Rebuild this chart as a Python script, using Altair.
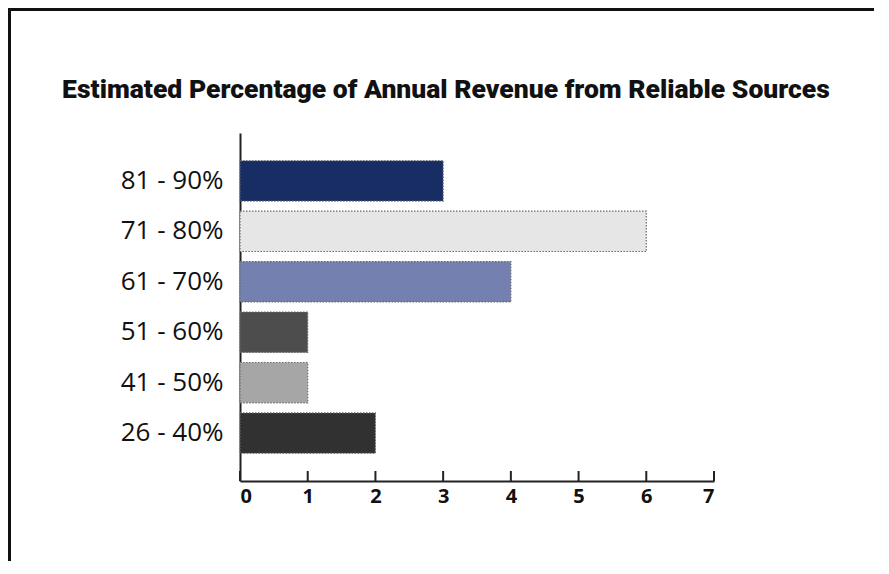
import altair as alt
import pandas as pd

categories = ["81 - 90%", "71 - 80%", "61 - 70%", "51 - 60%", "41 - 50%", "26 - 40%"]
values = [3, 6, 4, 1, 1, 2]
colors = ["#172d63", "#e6e6e6", "#7380b0", "#4d4d4d", "#a6a6a6", "#313131"]
tick_values = [0, 1, 2, 3, 4, 5, 6, 7]
title_text = ["Estimated Percentage of Annual Revenue from Reliable Sources"]

df = pd.DataFrame({"range": categories, "count": values, "color": colors})
ticks_df = pd.DataFrame({"t": tick_values})
title_df = pd.DataFrame({"title": title_text})

W, H = 474, 348

xscale = alt.Scale(domain=[0, 7], nice=False, zero=True)

bars = alt.Chart(df).mark_bar(
    stroke="#6a6a6a", strokeWidth=1.2, strokeDash=[1.5, 1.5]
).encode(
    x=alt.X("count:Q", scale=xscale,
            axis=alt.Axis(values=tick_values, ticks=False, grid=False, title=None,
                          labelFont="Open Sans", labelFontSize=20, labelFontWeight="bold",
                          labelColor="#111", labelPadding=5, domainColor="#222",
                          domainWidth=2, format="d")),
    y=alt.Y("range:N", sort=categories,
            scale=alt.Scale(paddingInner=0.2, paddingOuter=0.55),
            axis=alt.Axis(ticks=False, grid=False, title=None, labelFont="Open Sans",
                          labelFontSize=26, labelColor="#111", labelPadding=17,
                          domainColor="#222", domainWidth=2)),
    color=alt.Color("color:N", scale=None, legend=None),
)

tick_marks = alt.Chart(ticks_df).mark_rule(color="#222", strokeWidth=2).encode(
    x=alt.X("t:Q", scale=xscale),
    y=alt.value(H - 10),
    y2=alt.value(H),
)

title_mark = alt.Chart(title_df).mark_text(
    font="Roboto", fontSize=26.5, fontWeight=900, color="#111",
    align="center", baseline="middle"
).encode(x=alt.value(206), y=alt.value(-43), text="title:N")

border_left = alt.Chart(ticks_df).mark_rule(color="#111", strokeWidth=3).encode(
    x=alt.value(-231), y=alt.value(-125), y2=alt.value(H + 200)
)
border_top = alt.Chart(ticks_df).mark_rule(color="#111", strokeWidth=3).encode(
    x=alt.value(-232.5), x2=alt.value(W + 300), y=alt.value(-124)
)

chart = alt.layer(border_left, border_top, bars, tick_marks, title_mark).properties(
    width=W, height=H,
    background="white",
    autosize=alt.AutoSizeParams(type="none"),
    padding={"left": 232, "top": 125, "right": 160, "bottom": 80},
).configure_view(stroke="transparent", strokeWidth=0)

chart.save("out.html", embed_options={"renderer": "svg", "actions": False})
